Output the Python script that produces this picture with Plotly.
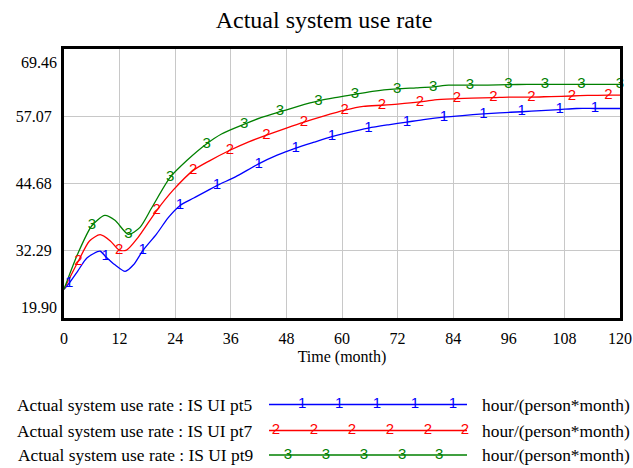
import plotly.graph_objects as go

# ---------------- data ----------------
chart_title = "Actual system use rate"
x_title = "Time (month)"
series_names = [
    "Actual system use rate : IS UI pt5",
    "Actual system use rate : IS UI pt7",
    "Actual system use rate : IS UI pt9",
]
units = "hour/(person*month)"
series_labels = ["1", "2", "3"]
series_colors = ["#0000ff", "#ff0000", "#008000"]

t_pt5 = [0, 1.1, 3, 5, 7.8, 9, 11, 13.2, 15, 17, 20, 22.5, 25, 28, 33, 37, 42, 46, 50, 54,
         57.8, 61, 65.7, 70, 74, 78, 82, 86, 90.5, 94, 98.8, 103, 107, 110.6, 114.6, 120]
v_pt5 = [25.2, 26.3, 28.6, 31.0, 32.2, 31.2, 29.7, 28.5, 29.7, 32.3, 35.4, 38.4, 40.6, 42.0,
         44.3, 45.9, 48.3, 49.9, 51.2, 52.3, 53.3, 54.0, 54.9, 55.5, 56.0, 56.5, 56.9, 57.2,
         57.5, 57.7, 57.9, 58.1, 58.3, 58.5, 58.5, 58.5]
mark_t_pt5 = [1.1, 9, 17, 25, 33, 42, 50, 57.8, 65.7, 74, 82, 90.5, 98.8, 107, 114.6]

t_pt7 = [0, 3.1, 5.5, 7.8, 10, 11.9, 13.5, 16, 20, 23.6, 27.9, 31.5, 35.8, 40, 43.7, 48, 51.8,
         56, 60.6, 64.6, 68.6, 72, 76.8, 80, 84.8, 88, 92.7, 96, 100.9, 105, 109.6, 113, 117.5, 120]
v_pt7 = [25.2, 30.4, 34.1, 35.25, 34.1, 32.4, 32.4, 34.75, 39.7, 43.5, 47.1, 48.9, 50.8, 52.4,
         53.6, 54.9, 56.0, 57.1, 58.2, 58.9, 59.1, 59.3, 59.7, 60.1, 60.3, 60.4, 60.5, 60.6,
         60.6, 60.7, 60.8, 60.9, 60.95, 60.95]
mark_t_pt7 = [3.1, 11.9, 20, 27.9, 35.8, 43.7, 51.8, 60.6, 68.6, 76.8, 84.8, 92.7, 100.9, 109.6, 117.5]

t_pt9 = [0, 3, 6, 8.8, 11, 13.9, 16.4, 19, 22.9, 26.5, 30.8, 34, 38.9, 42.5, 46.6, 50.5, 54.9,
         58.5, 62.8, 67, 71.9, 76, 79.7, 83, 87.6, 91.5, 95.9, 100, 103.8, 108, 111.7, 116, 120]
v_pt9 = [25.2, 31.8, 36.9, 38.8, 37.9, 35.3, 36.6, 40.3, 45.8, 48.9, 52.0, 53.8, 55.6, 56.8,
         57.9, 58.9, 59.9, 60.5, 61.1, 61.7, 62.1, 62.3, 62.5, 62.8, 62.8, 62.8, 62.9, 62.93,
         62.93, 62.93, 62.93, 62.93, 62.93]
mark_t_pt9 = [6, 13.9, 22.9, 30.8, 38.9, 46.6, 54.9, 62.8, 71.9, 79.7, 87.6, 95.9, 103.8, 111.7, 120]

x_ticks = [0, 12, 24, 36, 48, 60, 72, 84, 96, 108, 120]
y_min, y_max = 19.90, 69.46
y_mid_ticks = [32.29, 44.68, 57.07]
y_mid_text = ["32.29", "44.68", "57.07"]

# legend sample marker positions (fraction along the sample line)
legend_marks = [
    [0.167, 0.354, 0.545, 0.737, 0.929],
    [0.035, 0.227, 0.419, 0.611, 0.803, 0.990],
    [0.096, 0.288, 0.480, 0.672, 0.860],
]
legend_rows = [404.5, 430.5, 455]

# ---------------- figure ----------------
SERIF = "Liberation Serif"
SANS = "Liberation Sans"
fig = go.Figure()

all_t = [t_pt5, t_pt7, t_pt9]
all_v = [v_pt5, v_pt7, v_pt9]
all_m = [mark_t_pt5, mark_t_pt7, mark_t_pt9]

for i in range(3):
    fig.add_trace(go.Scatter(
        x=all_t[i], y=all_v[i], mode="lines",
        line=dict(color=series_colors[i], width=1.3, shape="spline", smoothing=0.7),
        hoverinfo="skip", showlegend=False))
for i in range(3):
    mx = [t for t in all_t[i] if t in all_m[i]]
    my = [v for t, v in zip(all_t[i], all_v[i]) if t in all_m[i]]
    fig.add_trace(go.Scatter(
        x=mx, y=my, mode="text", text=[series_labels[i]] * len(mx),
        textposition="middle center",
        textfont=dict(family=SANS, size=15, color=series_colors[i]),
        hoverinfo="skip", showlegend=False, cliponaxis=False))

# anchor traces so the extra tick-label axes are drawn
fig.add_trace(go.Scatter(x=[0], y=[y_max], yaxis="y3", mode="markers",
                         marker=dict(opacity=0), hoverinfo="skip", showlegend=False))
fig.add_trace(go.Scatter(x=[0], y=[y_min], yaxis="y4", mode="markers",
                         marker=dict(opacity=0), hoverinfo="skip", showlegend=False))

# legend block on its own hidden axes
for i in range(3):
    fig.add_trace(go.Scatter(
        x=[0, 1], y=[legend_rows[i]] * 2, mode="lines",
        line=dict(color=series_colors[i], width=1.3),
        xaxis="x2", yaxis="y2", hoverinfo="skip", showlegend=False))
    fig.add_trace(go.Scatter(
        x=legend_marks[i], y=[legend_rows[i]] * len(legend_marks[i]), mode="text",
        text=[series_labels[i]] * len(legend_marks[i]), textposition="middle center",
        textfont=dict(family=SANS, size=15, color=series_colors[i]),
        xaxis="x2", yaxis="y2", hoverinfo="skip", showlegend=False, cliponaxis=False))

annotations = []
left_end = (255 - 64) / 556
units_start = (480 - 64) / 556
for i in range(3):
    annotations.append(dict(
        x=left_end, y=legend_rows[i], xref="paper", yref="y2", text=series_names[i],
        showarrow=False, xanchor="right", yanchor="middle",
        font=dict(family=SERIF, size=17.4, color="black")))
    annotations.append(dict(
        x=units_start, y=legend_rows[i], xref="paper", yref="y2", text=units,
        showarrow=False, xanchor="left", yanchor="middle",
        font=dict(family=SERIF, size=17.4, color="black")))

main_dom = [(463 - 318) / 414, 1.0]
tickfont = dict(family=SERIF, size=16, color="black")

fig.update_layout(
    width=633, height=468,
    margin=dict(l=64, r=13, t=49, b=5, autoexpand=False),
    paper_bgcolor="white", plot_bgcolor="white",
    title=dict(text=chart_title, x=324 / 633, xref="container", xanchor="center",
               y=1 - 20 / 468, yref="container", yanchor="middle",
               font=dict(family=SERIF, size=24, color="black")),
    xaxis=dict(range=[0, 120], tickvals=x_ticks, ticktext=[str(v) for v in x_ticks],
               showgrid=True, gridcolor="#c8c8c8", gridwidth=1, zeroline=False,
               showline=True, linecolor="black", linewidth=3, mirror=True,
               ticks="", ticklabelstandoff=4, tickfont=tickfont, automargin=False,
               title=dict(text=x_title, font=dict(family=SERIF, size=16, color="black"),
                          standoff=5),
               anchor="y"),
    yaxis=dict(domain=main_dom, range=[y_min, y_max], tickvals=y_mid_ticks, ticktext=y_mid_text,
               showgrid=True, gridcolor="#c8c8c8", gridwidth=1, zeroline=False,
               showline=True, linecolor="black", linewidth=3, mirror=True, automargin=False,
               ticks="", ticklabelstandoff=6, tickfont=tickfont, anchor="x"),
    yaxis3=dict(overlaying="y", range=[y_min, y_max], tickvals=[y_max], ticktext=["69.46"],
                showgrid=False, zeroline=False, showline=False, ticks="", automargin=False,
                ticklabelstandoff=6, ticklabelshift=13, tickfont=tickfont, anchor="x", side="left"),
    yaxis4=dict(overlaying="y", range=[y_min, y_max], tickvals=[y_min], ticktext=["19.90"],
                showgrid=False, zeroline=False, showline=False, ticks="", automargin=False,
                ticklabelstandoff=6, ticklabelshift=-11, tickfont=tickfont, anchor="x", side="left"),
    xaxis2=dict(domain=[(269 - 64) / 556, (467 - 64) / 556], range=[0, 1], visible=False,
                anchor="y2"),
    yaxis2=dict(domain=[(463 - 462) / 414, (463 - 398) / 414], range=[462, 398], visible=False,
                anchor="x2"),
    annotations=annotations,
)

fig.write_html("out.html")
